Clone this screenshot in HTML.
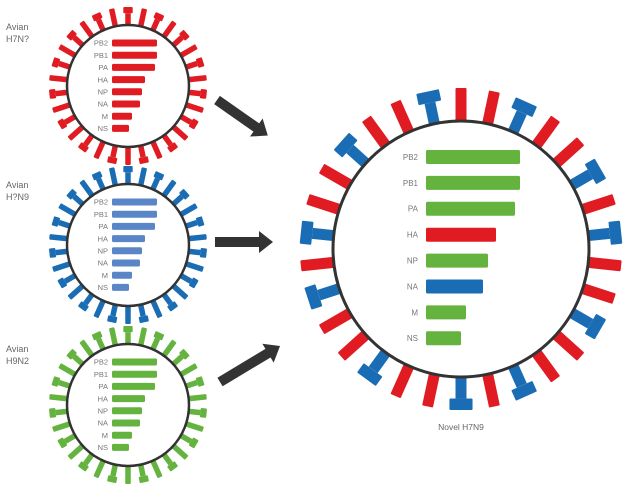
<!DOCTYPE html>
<html><head><meta charset="utf-8"><style>
html,body{margin:0;padding:0;background:#fff}
svg{display:block}
text{font-family:"Liberation Sans",sans-serif}
</style></head><body>
<svg id="s" width="628" height="495" viewBox="0 0 628 495" xmlns="http://www.w3.org/2000/svg">
<g font-size="9" fill="#666">
<text x="6" y="30">Avian</text><text x="6" y="42">H7N?</text>
<text x="6" y="188">Avian</text><text x="6" y="200">H?N9</text>
<text x="6" y="352">Avian</text><text x="6" y="364">H9N2</text>
<text x="461" y="430" text-anchor="middle" font-size="8.5">Novel H7N9</text>
</g>
<g fill="#333">
<polygon points="0,-5 48,-5 48,-11 62,0 48,11 48,5 0,5" transform="translate(217,100) rotate(35)"/>
<polygon points="0,-5 44,-5 44,-11 58,0 44,11 44,5 0,5" transform="translate(215,242)"/>
<polygon points="0,-5 56,-5 56,-11 70,0 56,11 56,5 0,5" transform="translate(220,382) rotate(-31)"/>
</g>
</svg>
<script>
var s=document.getElementById('s'),NS='http://www.w3.org/2000/svg';
function el(t,a,p){var e=document.createElementNS(NS,t);for(var k in a)e.setAttribute(k,a[k]);(p||s).appendChild(e);return e;}
function spikes(cx,cy,r,n,len,w,cap,colFn,typeFn,off){
 for(var i=0;i<n;i++){var a=off+i*360/n;var g=el('g',{transform:'translate('+cx+','+cy+') rotate('+a+')'});
  var c=colFn(i),t=typeFn(i);
  if(t){el('rect',{x:-w/2,y:-(r+len*0.65),width:w,height:len*0.65+2,fill:c},g);el('rect',{x:-w*cap/2,y:-(r+len),width:w*cap,height:len*0.35,fill:c,rx:1},g);}
  else el('rect',{x:-w/2,y:-(r+len),width:w,height:len+2,fill:c,rx:1},g);}
}
function virus(cx,cy,r,col,bars,bx,by0,dy,bh,fs,lx){
 el('circle',{cx:cx,cy:cy,r:r,fill:'#fff',stroke:'#333','stroke-width':r>100?3:2.5});
 var L=['PB2','PB1','PA','HA','NP','NA','M','NS'];
 for(var i=0;i<8;i++){var y=by0+i*dy;
  el('rect',{x:bx,y:y-bh/2,width:bars[i][0],height:bh,fill:bars[i][1]||col,rx:1.5});
  var t=el('text',{x:lx,y:y+fs*0.36,'font-size':fs,fill:'#777','text-anchor':'end'});t.textContent=L[i];}
}
var R='#e01b22',B='#1a6db5',Bl='#5a86c8',G='#63b33e';
var ws=[45,45,43,33,30,28,20,17];
[[86,R,R],[245,B,Bl],[405,G,G]].forEach(function(v){
 spikes(128,v[0],61,30,18,5.5,1.7,function(){return v[1]},function(i){return i%2==0},0);
 virus(128,v[0],61,v[2],ws.map(function(w){return [w]}),112,v[0]-43,12.2,7,7.5,108);
});
var bl=[0,3,6,8,11,14,16,19,22,24,27];
spikes(461,249,128,30,33,11,2.1,function(i){return bl.indexOf(i)>=0?B:R},function(i){return bl.indexOf(i)>=0},-12);
virus(461,249,128,G,[[94],[94],[89],[70,R],[62],[57,B],[40],[35]],426,157,25.9,14,8,418);
</script>
</body></html>
